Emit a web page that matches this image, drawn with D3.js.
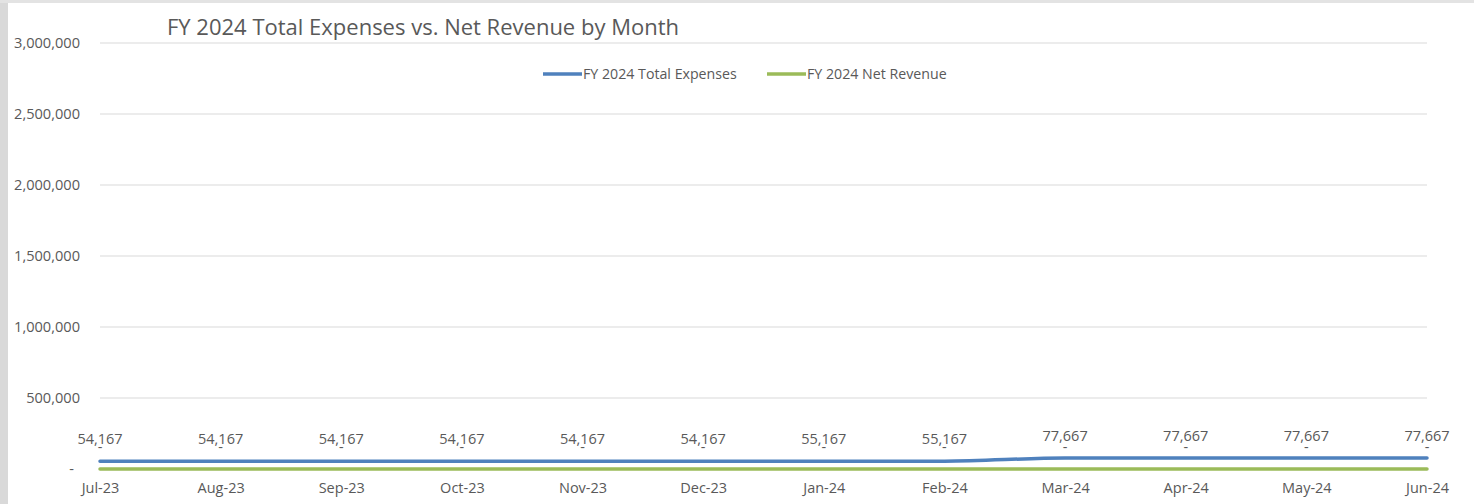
<!DOCTYPE html>
<html>
<head>
<meta charset="utf-8">
<script src="https://cdn.jsdelivr.net/npm/d3@7"></script>
<style>
  body { margin: 0; background: #fff; }
  text { font-family: "Open Sans", sans-serif; fill: #595959; }
</style>
</head>
<body>
<script>
// chart values
const months = ['Jul-23', 'Aug-23', 'Sep-23', 'Oct-23', 'Nov-23', 'Dec-23',
  'Jan-24', 'Feb-24', 'Mar-24', 'Apr-24', 'May-24', 'Jun-24']
const totalExpenses = [54167, 54167, 54167, 54167, 54167, 54167,
  55167, 55167, 77667, 77667, 77667, 77667]
const netRevenue = [0, 0, 0, 0, 0, 0, 0, 0, 0, 0, 0, 0]
const yTicks = [0, 500000, 1000000, 1500000, 2000000, 2500000, 3000000]
const seriesNames = ['FY 2024 Total Expenses', 'FY 2024 Net Revenue']
const seriesColors = ['#4f81bd', '#9bbb59']

let width = 1474
let height = 504
let margin = { top: 43, bottom: 35, left: 100, right: 47 }

const svg = d3.select('body')
  .append('svg')
  .attr('width', width)
  .attr('height', height)

// grey frame edges
svg.append('rect').attr('x', 0).attr('y', 0).attr('width', 8).attr('height', height).attr('fill', '#d9d9d9')
svg.append('rect').attr('x', 0).attr('y', 0).attr('width', width).attr('height', 3).attr('fill', '#e3e3e3')

const xScl = d3.scalePoint()
  .domain(months)
  .range([margin.left, width - margin.right])

const yScl = d3.scaleLinear()
  .domain([0, 3000000])
  .range([height - margin.bottom, margin.top])

// gridlines
svg.append('g')
  .selectAll('line')
  .data(yTicks)
  .join('line')
  .attr('x1', margin.left)
  .attr('x2', width - margin.right)
  .attr('y1', d => yScl(d))
  .attr('y2', d => yScl(d))
  .attr('stroke', '#d9d9d9')
  .attr('stroke-width', 1)

// y axis labels
const yAxis = d3.axisLeft(yScl)
  .tickValues(yTicks)
  .tickSize(0)
  .tickPadding(20)
  .tickFormat(d => d === 0 ? '-' : d3.format(',')(d))

const yG = svg.append('g')
  .attr('transform', `translate(${margin.left},0)`)
  .call(yAxis)
yG.select('.domain').remove()
yG.selectAll('text')
  .attr('font-size', '14.6px')
  .attr('fill', '#595959')
  .attr('font-family', '"Open Sans", sans-serif')
  .filter(d => d === 0)
  .attr('x', -26)

// x axis labels
const xAxis = d3.axisBottom(xScl).tickSize(0).tickPadding(14)
const xG = svg.append('g')
  .attr('transform', `translate(0,${height - margin.bottom})`)
  .call(xAxis)
xG.select('.domain').remove()
xG.selectAll('text')
  .attr('font-size', '14.5px')
  .attr('fill', '#595959')
  .attr('font-family', '"Open Sans", sans-serif')

// lines
const lineGen = d3.line()
  .x((d, i) => xScl(months[i]))
  .y(d => yScl(d))
  .curve(d3.curveMonotoneX)

const allSeries = [totalExpenses, netRevenue]

svg.append('g')
  .selectAll('path')
  .data(allSeries)
  .join('path')
  .attr('d', d => lineGen(d))
  .attr('fill', 'none')
  .attr('stroke', (d, i) => seriesColors[i])
  .attr('stroke-width', 3.5)
  .attr('stroke-linecap', 'round')

// data labels
allSeries.forEach((series, s) => {
  svg.append('g')
    .selectAll('text')
    .data(series)
    .join('text')
    .attr('x', (d, i) => xScl(months[i]))
    .attr('y', d => yScl(d) - 17)
    .attr('text-anchor', 'middle')
    .attr('font-size', '14.5px')
    .text(d => d === 0 ? '-' : d3.format(',')(d))
})

// title
svg.append('text')
  .attr('x', 167)
  .attr('y', 35)
  .attr('font-size', '22px')
  .text('FY 2024 Total Expenses vs. Net Revenue by Month')

// legend
const legendX = [543, 767]
const legend = svg.append('g')
  .selectAll('g')
  .data(seriesNames)
  .join('g')
  .attr('transform', (d, i) => `translate(${legendX[i]},74)`)

legend.append('line')
  .attr('x1', 0).attr('x2', 39)
  .attr('y1', 0).attr('y2', 0)
  .attr('stroke', (d, i) => seriesColors[i])
  .attr('stroke-width', 3.5)

legend.append('text')
  .attr('x', 40)
  .attr('y', 5)
  .attr('font-size', '14.2px')
  .text(d => d)
</script>
</body>
</html>
